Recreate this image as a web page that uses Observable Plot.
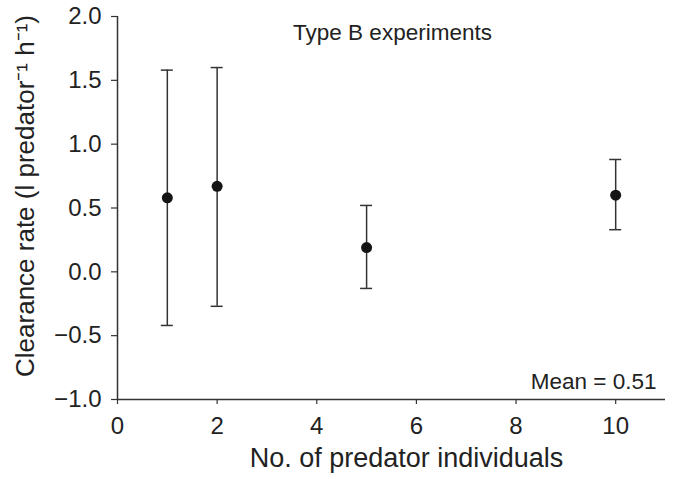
<!DOCTYPE html>
<html>
<head>
<meta charset="utf-8">
<script src="https://cdn.jsdelivr.net/npm/d3@7"></script>
<script src="https://cdn.jsdelivr.net/npm/@observablehq/plot@0.6"></script>
<style>
  html, body { margin: 0; padding: 0; background: #fff; }
  #chart g[aria-label$="tick label"] { font-size: 24px; }
</style>
</head>
<body>
<div id="chart"></div>
<script>
const predators = [1, 2, 5, 10];
const clearance = [0.58, 0.67, 0.19, 0.60];
const upper = [1.58, 1.60, 0.52, 0.88];
const lower = [-0.42, -0.27, -0.13, 0.33];
const xTicks = [0, 2, 4, 6, 8, 10];
const yTicks = [-1.0, -0.5, 0.0, 0.5, 1.0, 1.5, 2.0];
const titleText = "Type B experiments";
const meanText = "Mean = 0.51";
const xTitle = "No. of predator individuals";
const yTitle = "Clearance rate (l predator\u207B\u00B9 h\u207B\u00B9)";

const data = predators.map((x, i) => ({x, y: clearance[i], hi: upper[i], lo: lower[i]}));

const ink = "#333";
const chart = Plot.plot({
  width: 678,
  height: 479,
  marginLeft: 117,
  marginRight: 13,
  marginTop: 16,
  marginBottom: 80,
  style: {fontFamily: "'Liberation Sans', Arial, sans-serif", fontSize: "22px", color: "#222", background: "#fff"},
  x: {domain: [0, 11], label: null},
  y: {domain: [-1, 2], label: null},
  marks: [
    Plot.axisX(xTicks, {tickSize: 5, tickPadding: 12, fontSize: 24, label: null, stroke: ink, strokeWidth: 1.2, fill: "#222"}),
    Plot.axisY(yTicks, {tickSize: 6, tickPadding: 10, fontSize: 24, label: null, tickFormat: d3.format(".1f"), stroke: ink, strokeWidth: 1.2, fill: "#222"}),
    Plot.ruleX([0], {stroke: ink, strokeWidth: 1.5}),
    Plot.ruleY([-1], {stroke: ink, strokeWidth: 1.5}),
    Plot.ruleX(data, {x: "x", y1: "lo", y2: "hi", stroke: ink, strokeWidth: 1.5}),
    Plot.ruleY(data, {y: "hi", x1: "x", x2: "x", insetLeft: -6, insetRight: -6, stroke: ink, strokeWidth: 1.5}),
    Plot.ruleY(data, {y: "lo", x1: "x", x2: "x", insetLeft: -6, insetRight: -6, stroke: ink, strokeWidth: 1.5}),
    Plot.dot(data, {x: "x", y: "y", r: 5.5, fill: "#151515", stroke: "none"}),
    Plot.text([titleText], {frameAnchor: "top", dx: 1, dy: 8, fontSize: 22.5, fill: "#222"}),
    Plot.text([meanText], {frameAnchor: "bottom-right", textAnchor: "end", dx: -9, dy: -11, fontSize: 22.5, fill: "#222"}),
    Plot.text([xTitle], {frameAnchor: "bottom", dx: 15, dy: 67, fontSize: 27, fill: "#222"}),
    Plot.text([yTitle], {frameAnchor: "left", textAnchor: "middle", rotate: -90, dx: -92, dy: -12, fontSize: 26, fill: "#222"})
  ]
});
document.getElementById("chart").appendChild(chart);
</script>
</body>
</html>
